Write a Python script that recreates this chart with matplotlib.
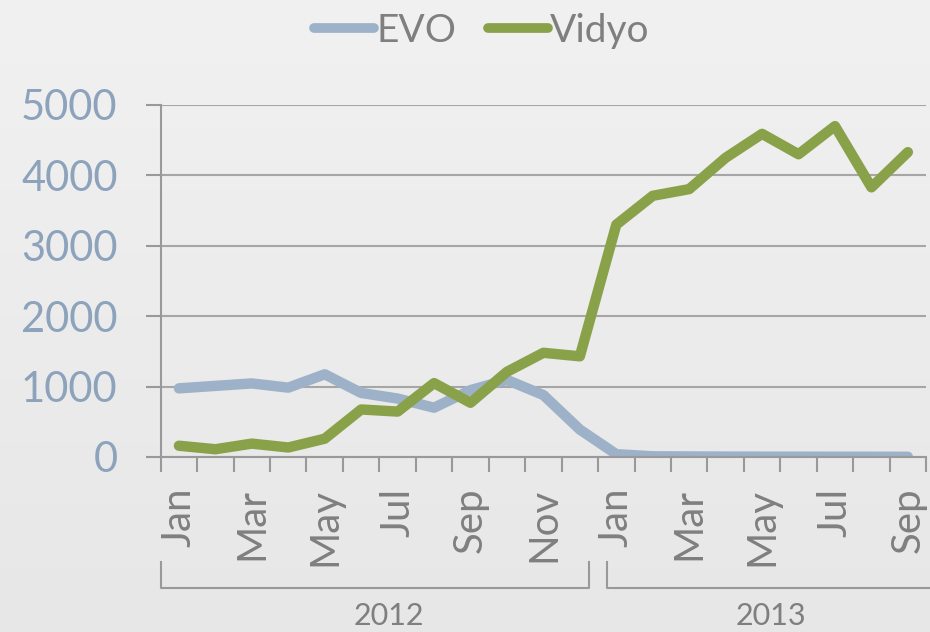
import numpy as np
import matplotlib
matplotlib.use("Agg")
import matplotlib.pyplot as plt
import matplotlib.transforms as mtransforms

plt.rcParams['font.family'] = ['Lato', 'DejaVu Sans']

months = ['Jan', 'Feb', 'Mar', 'Apr', 'May', 'Jun', 'Jul', 'Aug', 'Sep', 'Oct', 'Nov', 'Dec',
          'Jan', 'Feb', 'Mar', 'Apr', 'May', 'Jun', 'Jul', 'Aug', 'Sep']
years = ['2012', '2013']
year_len = [12, 9]

evo = [975, 1010, 1045, 985, 1175, 910, 830, 700, 950, 1095, 880, 390,
       40, 10, 8, 6, 5, 5, 4, 4, 3]
vidyo = [160, 110, 190, 135, 260, 675, 645, 1050, 770, 1210, 1480, 1430,
         3300, 3710, 3805, 4250, 4590, 4300, 4700, 3830, 4330]

EVO_C = '#9db2c8'
VID_C = '#89a24a'
TXT_C = '#7f7f7f'
GRID_C = '#a6a6a6'

fig = plt.figure(figsize=(9.3, 6.32), dpi=100)

# soft background gradient
bg = fig.add_axes([0, 0, 1, 1], zorder=-10)
grad = np.linspace(0, 1, 256).reshape(-1, 1)
bg.imshow(grad, aspect='auto', cmap=matplotlib.colors.LinearSegmentedColormap.from_list(
    'bg', ['#f1f1f1', '#e7e7e7']), extent=[0, 1, 0, 1], origin='upper')
bg.axis('off')

ax = fig.add_axes([0.1728, 0.2769, 0.8230, 0.5570])
ax.patch.set_alpha(0)

x = np.arange(len(months))
ax.plot(x, evo, color=EVO_C, lw=7.5, solid_capstyle='round', solid_joinstyle='round', label='EVO')
ax.plot(x, vidyo, color=VID_C, lw=7.5, solid_capstyle='round', solid_joinstyle='round', label='Vidyo')

ax.set_xlim(-0.5, len(months) - 0.5)
ax.set_ylim(0, 5000)
ax.set_yticks(np.arange(0, 5001, 1000))
ax.yaxis.grid(True, color=GRID_C, lw=1.5)
ax.set_axisbelow(True)

for s in ['top', 'right']:
    ax.spines[s].set_visible(False)
for s in ['left', 'bottom']:
    ax.spines[s].set_color('#999999')
    ax.spines[s].set_linewidth(1.5)

ax.tick_params(axis='y', length=11, width=1.5, color='#999999', labelsize=30,
               labelcolor='#8da3bc', pad=20)

# month labels at every other category, tick marks at boundaries
ax.set_xticks(x[::2])
ax.set_xticklabels(months[::2], rotation=90, fontsize=29, color=TXT_C)
ax.set_xticks(np.arange(-0.5, len(months)), minor=True)
ax.tick_params(axis='x', which='major', length=0, pad=22)
ax.tick_params(axis='x', which='minor', length=10.5, width=1.5, color='#999999')

# year brackets
trans = mtransforms.blended_transform_factory(ax.transData, ax.transAxes)
start = 0
for i, (yr, n) in enumerate(zip(years, year_len)):
    last = i == len(years) - 1
    left = start - 0.5 + (0.25 if i > 0 else 0)
    right = start + n - 0.5 + (0.6 if last else -0.25)
    yb = -0.371
    yt = -0.298
    xs = [left, left, right] if last else [left, left, right, right]
    ys = [yt, yb, yb] if last else [yt, yb, yb, yt]
    ax.plot(xs, ys, color='#999999', lw=1.5, transform=trans, clip_on=False,
            solid_joinstyle='round')
    ax.text(start + (n - 1) / 2 + 0.25, -0.452, yr, transform=trans, ha='center', va='center',
            fontsize=22, color=TXT_C)
    start += n

leg = fig.legend(loc='upper center', bbox_to_anchor=(0.518, 1.035), ncol=2, frameon=False,
                 fontsize=28, labelcolor=TXT_C, handlelength=1.55, handletextpad=0.05,
                 columnspacing=0.8)
for h in leg.get_lines():
    h.set_solid_capstyle('round')
    h.set_linewidth(7)

fig.savefig('out.png', dpi=100)
